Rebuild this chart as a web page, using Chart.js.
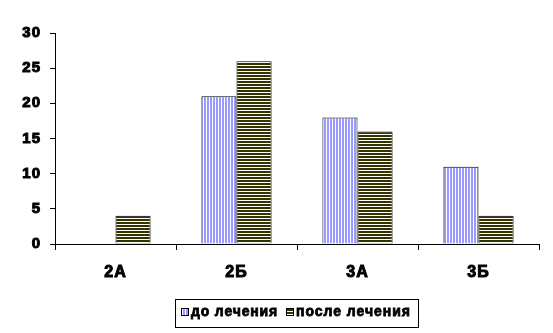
<!DOCTYPE html>
<html>
<head>
<meta charset="utf-8">
<script src="https://cdn.jsdelivr.net/npm/chart.js@4"></script>
<style>
  body { margin: 0; background: #fff; }
  #wrap { width: 553px; height: 333px; }
</style>
</head>
<body>
<div id="wrap"><canvas id="myChart" width="553" height="333"></canvas></div>
<script>
// chart data
const categories = ['2А', '2Б', '3А', '3Б'];
const beforeValues = [0, 21, 18, 11];
const afterValues = [4, 26, 16, 4];
const seriesNames = ['до лечения', 'после лечения'];
const yTicks = [0, 5, 10, 15, 20, 25, 30];

const FAMILY = 'Liberation Sans, Arial, sans-serif';

function stripes(vertical, color) {
    let c = document.createElement('canvas');
    c.width = 3; c.height = 3;
    let g = c.getContext('2d');
    g.fillStyle = '#fff';
    g.fillRect(0, 0, 3, 3);
    g.fillStyle = color;
    if (vertical) g.fillRect(0, 0, 2, 3);
    else g.fillRect(0, 0, 3, 2);
    return g.createPattern(c, 'repeat');
}

window.onload = function() {
    let ctx = document.getElementById('myChart').getContext('2d');

    // wider letters, like the old bitmap bold font
    let spacing = {
        id: 'spacing',
        beforeLayout(chart) { chart.ctx.letterSpacing = '1px'; },
        beforeDraw(chart) { chart.ctx.letterSpacing = '1px'; }
    };

    // legend in a frame under the plot
    let boxLegend = {
        id: 'boxLegend',
        afterDraw(chart) {
            let c = chart.ctx;
            c.save();
            c.strokeStyle = '#000';
            c.lineWidth = 1;
            c.strokeRect(175.5, 299.5, 243, 28);
            c.font = 'bold 14px ' + FAMILY;
            c.textBaseline = 'middle';
            let x = 181;
            let widths = [87, 115];
            chart.data.datasets.forEach((d, i) => {
                c.fillStyle = d.backgroundColor;
                c.fillRect(x, 308, 7, 8);
                c.lineWidth = 1;
                c.strokeRect(x + 0.5, 308.5, 7, 7);
                c.fillStyle = '#000';
                c.letterSpacing = '0px';
                let w = c.measureText(d.label).width;
                let ls = (widths[i] - w) / d.label.length;
                c.letterSpacing = ls + 'px';
                c.fillText(d.label, x + 10, 312);
                c.lineWidth = 0.8;
                c.strokeText(d.label, x + 10, 312);
                x += 10 + widths[i] + 8;
            });
            c.restore();
        }
    };

    new Chart(ctx, {
        type: 'bar',
        data: {
            labels: categories,
            datasets: [{
                label: seriesNames[0],
                data: beforeValues,
                backgroundColor: stripes(true, '#9999ff'),
                borderColor: '#000',
                borderWidth: 1
            }, {
                label: seriesNames[1],
                data: afterValues,
                backgroundColor: stripes(false, '#333300'),
                borderColor: '#000',
                borderWidth: 1
            }]
        },
        options: {
            responsive: false,
            animation: false,
            layout: { padding: { top: 33, right: 14, left: 0, bottom: 0 } },
            datasets: { bar: { categoryPercentage: 0.58, barPercentage: 1 } },
            scales: {
                x: {
                    afterFit: function(s) { s.height = 89; },
                    grid: { drawOnChartArea: false, drawTicks: true, tickLength: 6, color: '#000', offset: true },
                    border: { color: '#000', width: 1 },
                    ticks: { color: '#000', font: { family: FAMILY, weight: 'bold', size: 16 }, padding: 13,
                             textStrokeColor: '#000', textStrokeWidth: 1 }
                },
                y: {
                    min: 0, max: 30,
                    afterBuildTicks: function(s) { s.ticks = yTicks.map(v => ({ value: v })); },
                    afterFit: function(s) { s.width = 55; },
                    grid: { drawOnChartArea: false, drawTicks: true, tickLength: 5, color: '#000' },
                    border: { color: '#000', width: 1 },
                    ticks: { color: '#000', font: { family: FAMILY, weight: 'bold', size: 15 }, padding: 9,
                             textStrokeColor: '#000', textStrokeWidth: 1 }
                }
            },
            plugins: {
                legend: { display: false },
                tooltip: { enabled: false }
            }
        },
        plugins: [spacing, boxLegend]
    });
};
</script>
</body>
</html>
